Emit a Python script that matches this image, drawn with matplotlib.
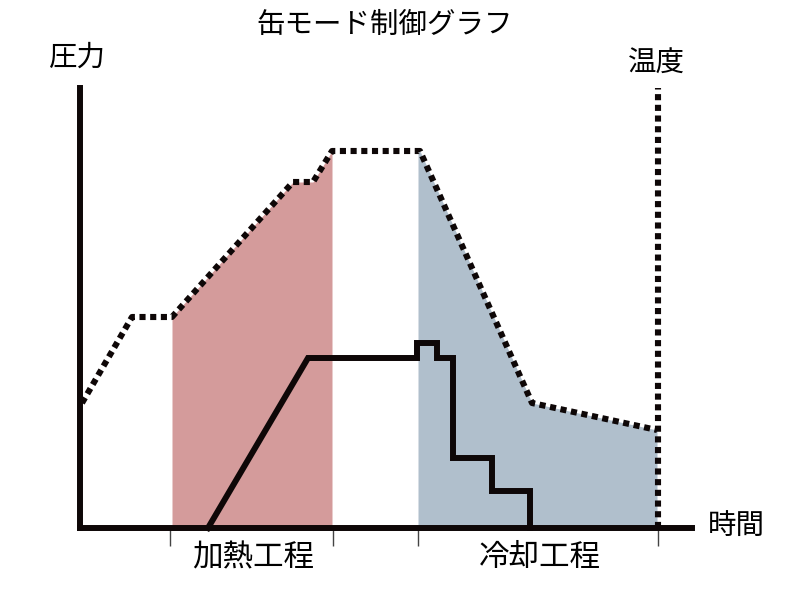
import matplotlib
matplotlib.use("Agg")
import numpy as np
import matplotlib.pyplot as plt

plt.rcParams['font.family'] = ['Noto Sans CJK JP', 'DejaVu Sans']

# 温度 (点線)
temp_t = [0.2, 5.2, 9.2, 21.3, 23.3, 25.2, 34.0, 45.2, 57.7]
temp_v = [12.5, 21.1, 21.1, 34.6, 34.6, 37.7, 37.7, 12.5, 9.8]

# 圧力 (実線)
pres_t = [12.8, 22.8, 33.7, 33.7, 35.7, 35.7, 37.3, 37.3, 41.2, 41.2, 45.0, 45.0]
pres_v = [0, 17.0, 17.0, 18.5, 18.5, 17.0, 17.0, 7.0, 7.0, 3.7, 3.7, 0]

# 工程
phase_names = ['加熱工程', '冷却工程']
phase_start = [9.2, 33.8]
phase_end = [25.2, 57.7]
phase_colors = ['#d49b9b', '#b0bfcc']
tick_pos = [9.0, 25.3, 33.8, 57.8]

ink = '#0e0707'
W, H = 800, 605

fig = plt.figure(figsize=(8, 6.05), dpi=100)
ax = fig.add_axes([80 / W, 77 / H, 612 / W, 440 / H])
ax.set_xlim(0, 61.2)
ax.set_ylim(0, 44)

# 塗りつぶし
for s, e, c in zip(phase_start, phase_end, phase_colors):
    xs = [s] + [t for t in temp_t if s < t < e] + [e]
    ys = np.interp(xs, temp_t, temp_v)
    ax.fill_between(xs, ys, 0, color=c, lw=0, zorder=1)

# 温度線
ax.plot(temp_t, temp_v, color=ink, lw=4.4, linestyle=(0, (1, 0.75)),
        dash_capstyle='butt', zorder=3, clip_on=False)
ax.plot([57.8, 57.8], [0, 44], color=ink, lw=4.4, linestyle=(0, (1, 0.75)),
        dash_capstyle='butt', zorder=3, clip_on=False)

# 圧力線
ax.plot(pres_t, pres_v, color=ink, lw=4.3, solid_joinstyle='miter',
        zorder=4, clip_on=False)

for side in ['top', 'right']:
    ax.spines[side].set_visible(False)
for side in ['left', 'bottom']:
    ax.spines[side].set_linewidth(4.3)
    ax.spines[side].set_color(ink)
    ax.spines[side].set_zorder(5)

ax.set_yticks([])
ax.set_xticks(tick_pos)
ax.set_xticklabels([])
ax.tick_params(axis='x', direction='out', length=13, width=1, color='#444444')

for name, s, e in zip(phase_names, tick_pos[0::2], tick_pos[1::2]):
    ax.text((s + e) / 2 + 0.2, -3.0, name, ha='center', va='center', fontsize=22)

fig.text(385 / W, 1 - 25 / H, '缶モード制御グラフ', ha='center', va='center', fontsize=20.5)
fig.text(77 / W, 1 - 58 / H, '圧力', ha='center', va='center', fontsize=20.5)
fig.text(656 / W, 1 - 64 / H, '温度', ha='center', va='center', fontsize=20.5)
fig.text(736 / W, 1 - 526 / H, '時間', ha='center', va='center', fontsize=20.5)

fig.savefig('out.png', dpi=100)
